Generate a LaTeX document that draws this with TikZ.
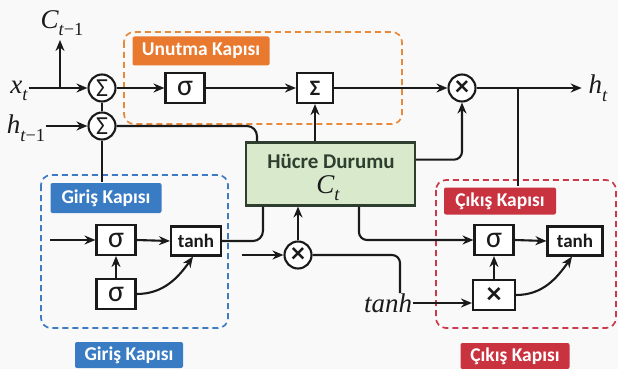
\RequirePackage{fix-cm}
\documentclass[tikz,border=0pt]{standalone}
\usepackage{fontspec}
\setmainfont{Carlito}
\newfontfamily\lblfont{Liberation Serif}
% italic symbol with a lowered, reduced subscript
\newcommand\vsub[2]{#1\raisebox{-0.28em}{\scalebox{0.68}{#2}}}
\usetikzlibrary{arrows.meta,calc}
\definecolor{ink}{HTML}{1A1A1A}
\definecolor{orangeTag}{HTML}{E8792F}
\definecolor{blueTag}{HTML}{3A7CC4}
\definecolor{redTag}{HTML}{C9323F}
\definecolor{orangeDash}{HTML}{E88A3C}
\definecolor{blueDash}{HTML}{3D7BC2}
\definecolor{redDash}{HTML}{C83A4C}
\definecolor{cellFill}{HTML}{D8E9CC}
\definecolor{cellEdge}{HTML}{2F3F2F}
\definecolor{paper}{HTML}{F9F9F9}
\begin{document}
\begin{tikzpicture}[x=1pt,y=-1pt,
  line width=2.1pt, draw=ink, >={Stealth[length=11pt,width=9pt]},
  every node/.style={inner sep=0pt, text=ink},
  opbox/.style={draw=ink, fill=white, minimum width=39pt, minimum height=30pt, font=\fontsize{30}{30}\selectfont},
  tanhbox/.style={draw=ink, fill=white, minimum height=29pt, font=\fontsize{19}{19}\selectfont\bfseries},
  sumcirc/.style={draw=ink, circle, fill=white, minimum size=27pt, font=\fontsize{26}{26}\selectfont},
  tag/.style={text=white, font=\fontsize{19.5}{19.5}\selectfont\bfseries, rounded corners=2pt},
  gate/.style={dash pattern=on 6pt off 4pt, rounded corners=10pt, line width=1.7pt},
  mathlbl/.style={font=\fontsize{27}{27}\selectfont\lblfont\itshape}
]
\useasboundingbox (0,0) rectangle (618,369);
\fill[paper] (0,0) rectangle (618,369);

% gate regions
\draw[gate, draw=orangeDash] (124,32) rectangle (402,124);
\draw[gate, draw=blueDash] (41,175) rectangle (228,328);
\draw[gate, draw=redDash] (436,180) rectangle (616,328);

% inputs and outputs
\node[mathlbl] (xt) at (19,91) {\vsub{x}{t}};
\node[mathlbl] (htm1) at (26,128) {\vsub{h}{t\upshape−1}};
\node[mathlbl] (ctm1) at (62,23) {\vsub{C}{t\upshape−1}};
\node[mathlbl] (ht) at (598,88) {\vsub{h}{t}};
\node[mathlbl] (tlbl) at (388,303) {tanh};

% summing junctions
\node[sumcirc] (s1) at (102,88) {Σ};
\node[sumcirc] (s2) at (102,126) {Σ};

% forget gate
\node[tag, fill=orangeTag, minimum width=137pt, minimum height=29pt] (fTag) at (201,51) {Unutma Kapısı};
\node[opbox] (fsig) at (185,88) {σ};
\node[opbox, minimum width=36pt, font=\fontsize{22}{22}\selectfont\bfseries] (fsum) at (315,88) {Σ};
\node[sumcirc, font=\fontsize{28}{28}\selectfont\bfseries] (mul) at (462,88) {×};

% cell state
\node[draw=cellEdge, fill=cellFill, minimum width=169pt, minimum height=63pt] (cell) at (330.5,174) {};
\node[font=\fontsize{21}{21}\selectfont\bfseries, text=cellEdge] (cellTitle) at (331,161) {Hücre Durumu};
\node[mathlbl] (cellSym) at (328,188) {\vsub{C}{t}};

% input gate
\node[tag, fill=blueTag, minimum width=111pt, minimum height=30pt] (inTag) at (106,198) {Giriş Kapısı};
\node[opbox] (isig1) at (116,240) {σ};
\node[opbox] (isig2) at (116,294) {σ};
\node[tanhbox, minimum width=50pt] (itanh) at (196,241) {tanh};
\node[tag, fill=blueTag, minimum width=108pt, minimum height=26pt] (inTag2) at (129,355) {Giriş Kapısı};

% middle product
\node[sumcirc, font=\fontsize{28}{28}\selectfont\bfseries] (mx) at (298,255) {×};

% output gate
\node[tag, fill=redTag, minimum width=112pt, minimum height=27pt] (outTag) at (500,201) {Çıkış Kapısı};
\node[opbox] (osig) at (494,240) {σ};
\node[opbox, minimum width=42pt, font=\fontsize{30}{30}\selectfont\bfseries] (oprod) at (494,295) {×};
\node[tanhbox, minimum width=55pt] (otanh) at (575,241) {tanh};
\node[tag, fill=redTag, minimum width=109pt, minimum height=26pt] (outTag2) at (515,356) {Çıkış Kapısı};

% free ends
\coordinate (xbranch) at (60,88);
\coordinate (ctop) at (60,40);
\coordinate (hbranch) at (518,88);
\coordinate (inStart) at (50,240);
\coordinate (mxStart) at (242,255);
\coordinate (mxEnd) at (400,293);

% main row
\draw[->] (xt.east |- s1.west) -- (s1.west);
\draw[->] (xbranch) -- (ctop);
\draw (s1.south) -- (s2.north);
\draw[->] (htm1.east |- s2.west) -- (s2.west);
\draw (s2.south) -- (s2.south |- inTag.north);
\draw[->] (s1.east) -- (fsig.west);
\draw[->] (fsig.east) -- (fsum.west);
\draw[->] (fsum.east) -- (mul.west);
\draw[->, shorten >=6pt] (mul.east) -- (ht.west |- mul.east);
\draw (hbranch) -- (hbranch |- outTag.north);

% cell state links
\draw[->] (fsum.south |- cell.north) -- (fsum.south);
\draw[->, rounded corners=8pt] ($(cell.north east)!0.28!(cell.south east)$) -| (mul.south);
\draw[rounded corners=10pt] (s2.east) -| ($(cell.north west)+(12,0)$);

% input gate links
\draw[->] (inStart) -- (isig1.west);
\draw[->] (isig1.east) -- (itanh.west);
\draw[->] (isig2.north) -- (isig1.south);
\draw[->] (isig2.east) to[out=0, in=-125] ($(itanh.south)+(-3,0)$);
\draw[rounded corners=10pt] (itanh.east) -| ($(cell.south west)+(18,0)$);

% middle product links
\draw[->] (mxStart) -- (mx.west);
\draw[->] (mx.north) -- (mx.north |- cell.south);
\draw[rounded corners=8pt] (mx.east) -| (mxEnd);

% output gate links
\draw[->] (tlbl.east) -- (oprod.west |- tlbl.east);
\draw[->, rounded corners=8pt] ($(cell.south west)+(114,0)$) |- (osig.west);
\draw[->] (oprod.north) -- (osig.south);
\draw[->] (osig.east) -- (otanh.west);
\draw[->] (oprod.east) to[out=0, in=-125] ($(otanh.south)+(-3,0)$);
\end{tikzpicture}
\end{document}
